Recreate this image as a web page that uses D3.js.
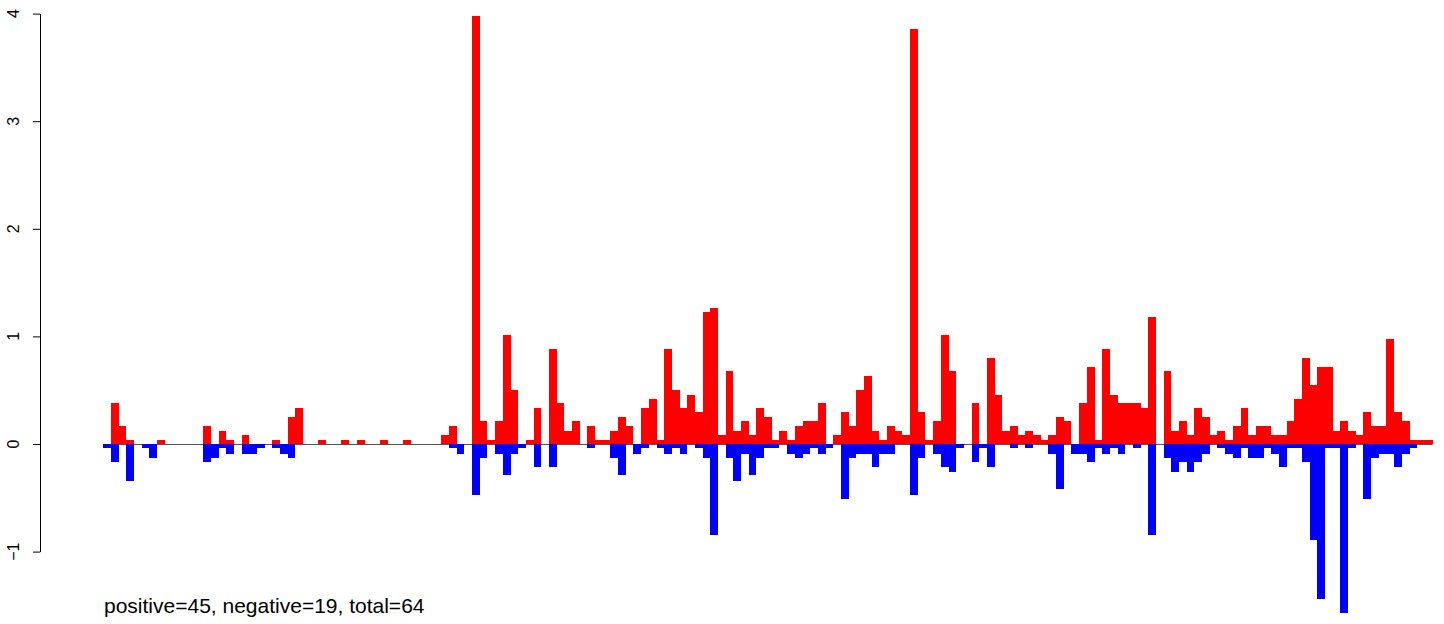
<!DOCTYPE html>
<html>
<head>
<meta charset="utf-8">
<script src="https://cdn.jsdelivr.net/npm/d3@7"></script>
<style>
  body { margin: 0; background: #fff; }
  svg { display: block; font-family: "Liberation Sans", Arial, sans-serif; }
</style>
</head>
<body>
<svg id="chart" width="1444" height="624"></svg>
<script>
// positive part of each position (red), one entry per bar
const positive = [
  0, 0.38, 0.17, 0.04, 0, 0, 0, 0.04, 0, 0,
  0, 0, 0, 0.17, 0, 0.12, 0.04, 0, 0.08, 0,
  0, 0, 0.04, 0, 0.25, 0.33, 0, 0, 0.04, 0,
  0, 0.04, 0, 0.04, 0, 0, 0.04, 0, 0, 0.04,
  0, 0, 0, 0, 0.08, 0.17, 0, 0, 3.98, 0.21,
  0.04, 0.21, 1.01, 0.50, 0, 0.04, 0.33, 0, 0.88, 0.38,
  0.12, 0.21, 0, 0.17, 0.04, 0.04, 0.12, 0.25, 0.17, 0,
  0.33, 0.42, 0.04, 0.88, 0.50, 0.33, 0.46, 0.30, 1.23, 1.26,
  0.08, 0.68, 0.12, 0.21, 0.08, 0.33, 0.25, 0.04, 0.12, 0.04,
  0.17, 0.21, 0.21, 0.38, 0, 0.08, 0.30, 0.17, 0.50, 0.63,
  0.12, 0.04, 0.17, 0.12, 0.08, 3.86, 0.30, 0.04, 0.21, 1.01,
  0.68, 0, 0, 0.38, 0, 0.80, 0.46, 0.12, 0.17, 0.08,
  0.12, 0.08, 0.04, 0.08, 0.25, 0.21, 0, 0.38, 0.72, 0.04,
  0.88, 0.46, 0.38, 0.38, 0.38, 0.33, 1.18, 0, 0.68, 0.12,
  0.21, 0.08, 0.33, 0.25, 0.08, 0.12, 0.04, 0.17, 0.33, 0.08,
  0.17, 0.17, 0.08, 0.08, 0.21, 0.42, 0.80, 0.55, 0.72, 0.72,
  0.12, 0.21, 0.12, 0.08, 0.30, 0.17, 0.17, 0.98, 0.30, 0.21,
  0.04, 0.04, 0.04
];

// negative part of each position (blue)
const negative = [
  -0.04, -0.17, 0, -0.34, 0, -0.04, -0.13, 0, 0, 0,
  0, 0, 0, -0.17, -0.13, -0.04, -0.09, 0, -0.09, -0.09,
  -0.04, 0, -0.04, -0.09, -0.13, 0, 0, 0, 0, 0,
  0, 0, 0, 0, 0, 0, 0, 0, 0, 0,
  0, 0, 0, 0, 0, -0.04, -0.09, 0, -0.47, -0.13,
  0, -0.09, -0.29, -0.09, -0.04, 0, -0.21, 0, -0.21, 0,
  0, 0, 0, -0.04, 0, 0, -0.13, -0.29, 0, -0.09,
  -0.04, 0, -0.04, -0.09, -0.04, -0.09, 0, -0.04, -0.13, -0.85,
  0, -0.13, -0.34, -0.09, -0.29, -0.13, -0.04, -0.04, 0, -0.09,
  -0.13, -0.09, -0.04, -0.09, -0.04, 0, -0.51, -0.13, -0.09, -0.09,
  -0.21, -0.09, -0.09, 0, 0, -0.47, -0.13, 0, -0.09, -0.21,
  -0.26, -0.04, 0, -0.17, -0.04, -0.21, 0, 0, -0.04, 0,
  -0.04, 0, 0, -0.09, -0.42, 0, -0.09, -0.09, -0.17, -0.04,
  -0.09, -0.04, -0.09, 0, -0.04, 0, -0.85, 0, -0.13, -0.26,
  -0.17, -0.26, -0.17, -0.09, 0, -0.04, -0.09, -0.13, -0.04, -0.13,
  -0.13, -0.04, -0.09, -0.21, -0.04, -0.04, -0.17, -0.89, -1.44, -0.04,
  -0.04, -1.57, -0.04, 0, -0.51, -0.13, -0.09, -0.09, -0.21, -0.09,
  -0.04, 0, 0
];

const yTicks = [-1, 0, 1, 2, 3, 4];
const caption = "positive=45, negative=19, total=64";

const svg = d3.select("#chart");

const x = d3.scaleBand()
  .domain(d3.range(positive.length))
  .range([103.3, 1432.6])
  .padding(0);

const y = d3.scaleLinear()
  .domain([-1, 4])
  .range([551.6, 13.6]);

// zero line under the bars
svg.append("line")
  .attr("x1", x.range()[0])
  .attr("x2", x.range()[1])
  .attr("y1", y(0) + 0.5)
  .attr("y2", y(0) + 0.5)
  .attr("stroke", "#555")
  .attr("stroke-width", 1.2);

const idx = d3.range(positive.length);

svg.append("g")
  .selectAll("rect")
  .data(idx.filter(i => positive[i] > 0))
  .join("rect")
  .attr("x", i => x(i))
  .attr("width", x.bandwidth())
  .attr("y", i => y(positive[i]))
  .attr("height", i => y(0) - y(positive[i]))
  .attr("fill", "#ff0000")
  .attr("shape-rendering", "crispEdges");

svg.append("g")
  .selectAll("rect")
  .data(idx.filter(i => negative[i] < 0))
  .join("rect")
  .attr("x", i => x(i))
  .attr("width", x.bandwidth())
  .attr("y", y(0))
  .attr("height", i => y(negative[i]) - y(0))
  .attr("fill", "#0000ff")
  .attr("shape-rendering", "crispEdges");

// y axis, R style: labels parallel to the axis
const axis = svg.append("g")
  .attr("transform", "translate(40,0)")
  .call(d3.axisLeft(y).tickValues(yTicks).tickSize(7).tickSizeOuter(0).tickFormat(""));
axis.select(".domain").attr("stroke", "#000");
axis.selectAll(".tick line").attr("stroke", "#000");

svg.append("g")
  .selectAll("text")
  .data(yTicks)
  .join("text")
  .attr("transform", d => `translate(19,${y(d)}) rotate(-90)`)
  .attr("text-anchor", "middle")
  .attr("font-size", 16)
  .attr("fill", "#000")
  .text(d => d < 0 ? "\u2212" + Math.abs(d) : d);

svg.append("text")
  .attr("x", 104)
  .attr("y", 613)
  .attr("font-size", 21)
  .attr("fill", "#000")
  .text(caption);
</script>
</body>
</html>
